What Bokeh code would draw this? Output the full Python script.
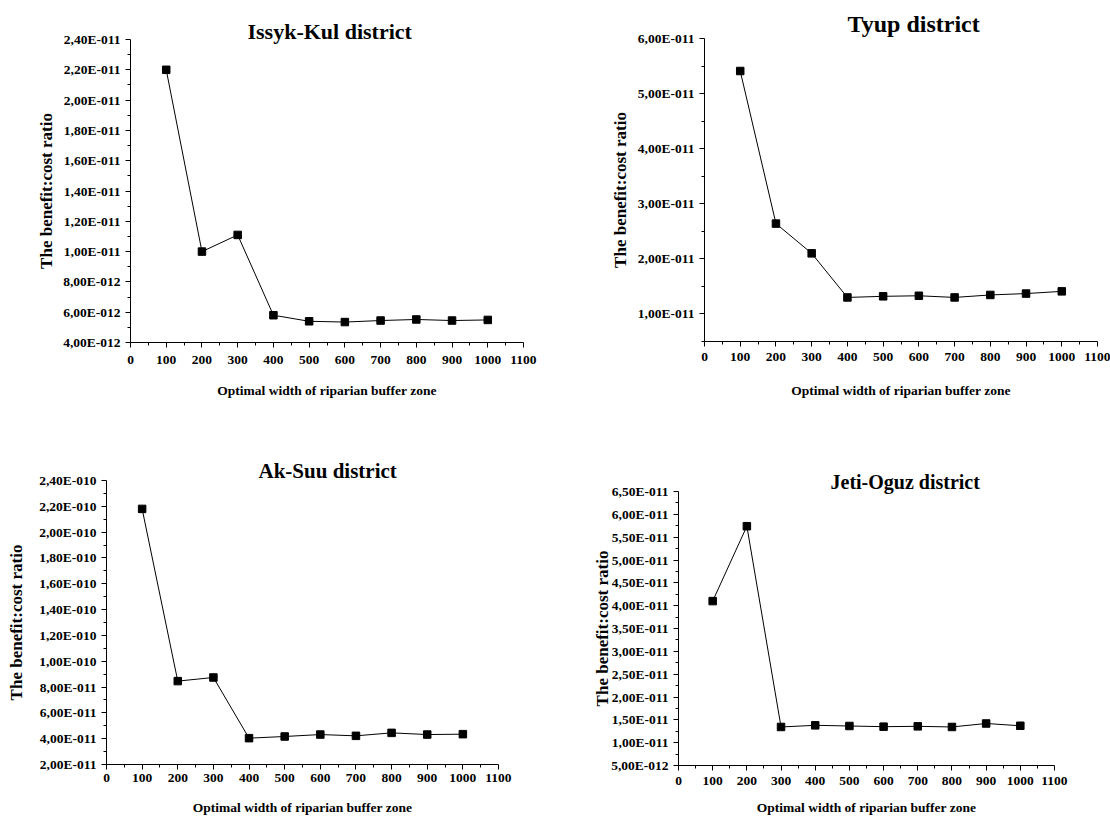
from bokeh.plotting import figure
from bokeh.layouts import column, row
from bokeh.models import Range1d, FixedTicker, CustomJSTickFormatter
from bokeh.embed import file_html
from bokeh.resources import INLINE

# ---------------- data ----------------
buffer_width = [100, 200, 300, 400, 500, 600, 700, 800, 900, 1000]

issyk_kul = [2.20e-11, 1.00e-11, 1.11e-11, 5.80e-12, 5.40e-12,
             5.35e-12, 5.45e-12, 5.52e-12, 5.45e-12, 5.49e-12]
tyup = [5.41e-11, 2.64e-11, 2.10e-11, 1.30e-11, 1.32e-11,
        1.33e-11, 1.30e-11, 1.345e-11, 1.37e-11, 1.41e-11]
ak_suu = [2.18e-10, 8.46e-11, 8.74e-11, 4.04e-11, 4.17e-11,
          4.32e-11, 4.22e-11, 4.45e-11, 4.32e-11, 4.35e-11]
jeti_oguz = [4.10e-11, 5.74e-11, 1.344e-11, 1.38e-11, 1.365e-11,
             1.35e-11, 1.358e-11, 1.344e-11, 1.42e-11, 1.37e-11]

x_ticks = [0, 100, 200, 300, 400, 500, 600, 700, 800, 900, 1000, 1100]

issyk_ticks = [4.0e-12, 6.0e-12, 8.0e-12, 1.0e-11, 1.2e-11, 1.4e-11,
               1.6e-11, 1.8e-11, 2.0e-11, 2.2e-11, 2.4e-11]
tyup_ticks = [1.0e-11, 2.0e-11, 3.0e-11, 4.0e-11, 5.0e-11, 6.0e-11]
ak_suu_ticks = [2.0e-11, 4.0e-11, 6.0e-11, 8.0e-11, 1.0e-10, 1.2e-10,
                1.4e-10, 1.6e-10, 1.8e-10, 2.0e-10, 2.2e-10, 2.4e-10]
jeti_ticks = [5.0e-12, 1.0e-11, 1.5e-11, 2.0e-11, 2.5e-11, 3.0e-11, 3.5e-11,
              4.0e-11, 4.5e-11, 5.0e-11, 5.5e-11, 6.0e-11, 6.5e-11]

titles = ["Issyk-Kul district", "Tyup district", "Ak-Suu district", "Jeti-Oguz district"]
x_label = "Optimal width of riparian buffer zone"
y_label = "The benefit:cost ratio"

# ---------------- helpers ----------------
FONT = "Liberation Serif"

sci_fmt = CustomJSTickFormatter(code="""
    if (tick === 0) { return "0"; }
    const e = Math.floor(Math.log10(Math.abs(tick)) + 1e-6);
    const m = tick / Math.pow(10, e);
    const s = m.toFixed(2).replace('.', ',');
    return s + 'E' + (e < 0 ? '-' : '+') + String(Math.abs(e)).padStart(3, '0');
""")


def midpoints(vals):
    return [(a + b) / 2 for a, b in zip(vals[:-1], vals[1:])]


def make_panel(title, yvals, yticks, ymin, ymax, yminor, width, height,
               borders, title_size, title_standoff, title_offset,
               ylab_standoff, xtick_standoff, xlab_standoff):
    bl, br, bt, bb = borders
    p = figure(width=width, height=height, output_backend="svg",
               toolbar_location=None, tools="",
               x_range=Range1d(0, 1100), y_range=Range1d(ymin, ymax),
               min_border_left=bl, min_border_right=br,
               min_border_top=bt, min_border_bottom=bb,
               title=title)
    try:
        p.frame_align = False
    except Exception:
        pass
    p.outline_line_color = None
    p.grid.visible = False
    p.background_fill_color = "white"
    p.border_fill_color = "white"

    p.title.align = "left"
    p.title.text_font = FONT
    p.title.text_font_style = "bold"
    p.title.text_font_size = title_size
    p.title.text_color = "black"
    p.title.standoff = title_standoff
    p.title.offset = title_offset

    p.line(buffer_width, yvals, line_color="black", line_width=1)
    p.scatter(buffer_width, yvals, marker="square", size=7.5,
              fill_color="black", line_color="black")

    xa = p.xaxis[0]
    xa.ticker = FixedTicker(ticks=x_ticks, minor_ticks=midpoints(x_ticks))
    xa.axis_label = x_label
    xa.axis_label_standoff = xlab_standoff
    xa.major_label_standoff = xtick_standoff

    ya = p.yaxis[0]
    ya.ticker = FixedTicker(ticks=yticks, minor_ticks=yminor)
    ya.formatter = sci_fmt
    ya.axis_label = y_label
    ya.axis_label_standoff = ylab_standoff
    ya.major_label_standoff = 5

    for ax in (xa, ya):
        ax.axis_line_color = "black"
        ax.axis_line_width = 1
        ax.major_tick_line_color = "black"
        ax.minor_tick_line_color = "black"
        ax.major_tick_in = 0
        ax.major_tick_out = 5
        ax.minor_tick_in = 0
        ax.minor_tick_out = 3
        ax.major_label_text_font = FONT
        ax.major_label_text_font_style = "bold"
        ax.major_label_text_font_size = "13.5px"
        ax.major_label_text_color = "black"
        ax.axis_label_text_font = FONT
        ax.axis_label_text_font_style = "bold"
        ax.axis_label_text_color = "black"
    xa.axis_label_text_font_size = "13.5px"
    ya.axis_label_text_font_size = "17px"
    return p


W1, W2 = 583, 527
H1, H2 = 400, 417

p1 = make_panel(titles[0], issyk_kul, issyk_ticks, 4.0e-12, 2.4e-11,
                midpoints(issyk_ticks), W1, H1, (130, 60, 39, 56),
                "22px", -9, 117, 4, 8, 16)
p2 = make_panel(titles[1], tyup, tyup_ticks, 5.0e-12, 6.0e-11,
                [5.0e-12] + midpoints(tyup_ticks), W2, H1, (121, 13, 38, 58),
                "24px", 3, 143, 5, 6, 19)
p3 = make_panel(titles[2], ak_suu, ak_suu_ticks, 2.0e-11, 2.4e-10,
                midpoints(ak_suu_ticks), W1, H2, (106, 85, 80, 53),
                "21px", -4, 152, 10, 4, 15)
p4 = make_panel(titles[3], jeti_oguz, jeti_ticks, 5.0e-12, 6.5e-11,
                midpoints(jeti_ticks), W2, H2, (95, 56, 91, 51),
                "20px", -3, 152, -4, 6, 12)

layout = column(row(p1, p2), row(p3, p4))

open("out.html", "w").write(file_html(layout, INLINE))
